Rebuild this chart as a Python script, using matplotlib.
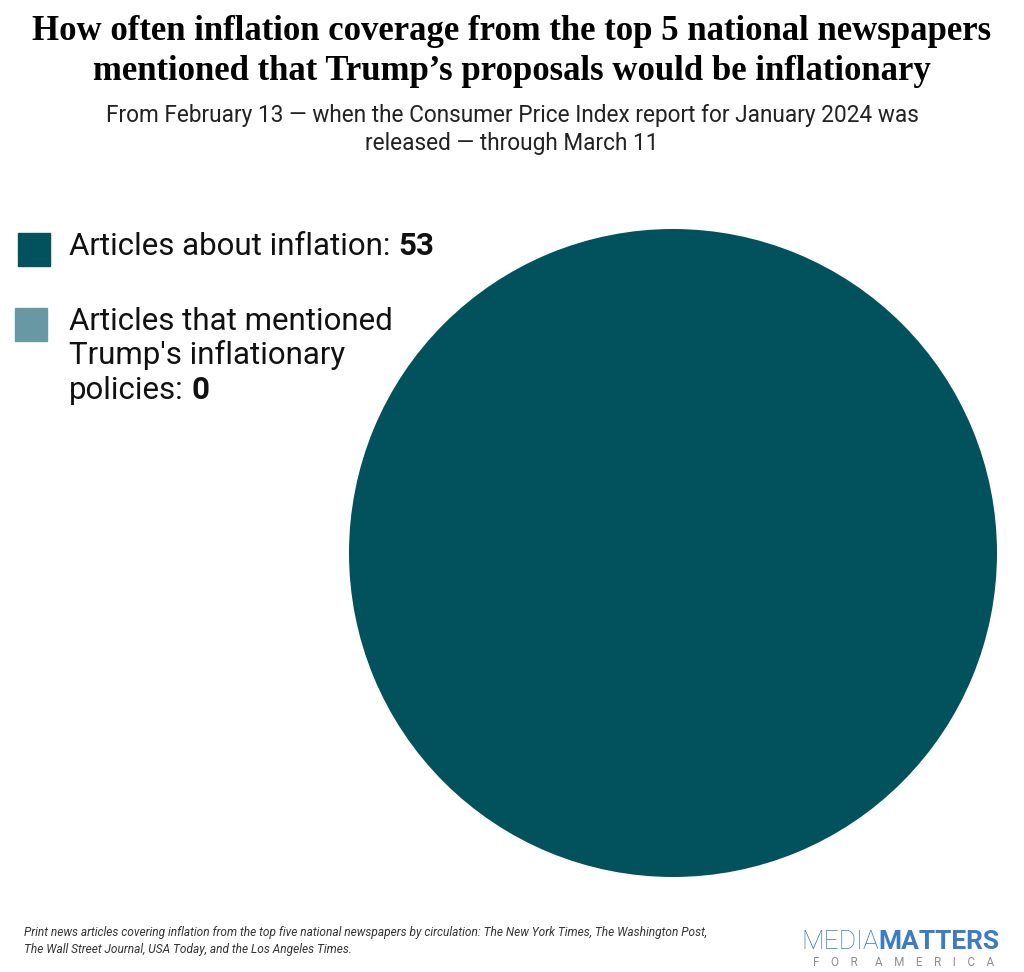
import matplotlib
matplotlib.use("Agg")
import matplotlib.pyplot as plt
from matplotlib.patches import Rectangle

# data
labels = ["Articles about inflation: ", "Articles that mentioned\nTrump's inflationary\npolicies: "]
counts = [53, 0]
colors = ["#01525c", "#6798a3"]

title = "How often inflation coverage from the top 5 national newspapers\nmentioned that Trump\u2019s proposals would be inflationary"
subtitle = "From February 13 \u2014 when the Consumer Price Index report for January 2024 was\nreleased \u2014 through March 11"
note = ("Print news articles covering inflation from the top five national newspapers by circulation: The New York Times, The Washington Post,\n"
        "The Wall Street Journal, USA Today, and the Los Angeles Times.")

W, H = 1024, 972
fig = plt.figure(figsize=(W / 100, H / 100), dpi=100)
fig.patch.set_facecolor("white")

# pie, center ~ (673, 553), radius ~ 324 px
cx, cy, r = 673, 553, 324
ax = fig.add_axes([(cx - r) / W, (H - cy - r) / H, 2 * r / W, 2 * r / H])
ax.pie(counts, colors=colors, startangle=90, counterclock=False, radius=1,
       wedgeprops=dict(linewidth=0))
ax.set_xlim(-1, 1)
ax.set_ylim(-1, 1)
ax.set_aspect("equal")
ax.axis("off")

fig.text(0.5, 1 - 15 / H, title, ha="center", va="top", family="Liberation Serif",
         fontweight="bold", fontsize=25, linespacing=1.3)
fig.text(0.5, 1 - 104 / H, subtitle, ha="center", va="top", family="Roboto",
         fontsize=16.3, color="#222222", linespacing=1.3)

fig.canvas.draw()
renderer = fig.canvas.get_renderer()


def text_width(s, **kw):
    t = fig.text(0, 0, s, **kw)
    w = t.get_window_extent(renderer).width
    t.remove()
    return w


# legend (one text per line, the count in bold after the last line)
boxes = [(18, 233), (15, 308)]
first_line = [247, 322]
step = 34.5
lkw = dict(family="Roboto", fontsize=22.5, color="#111111")
for (bx, by), y0, lab, n, c in zip(boxes, first_line, labels, counts, colors):
    fig.patches.append(Rectangle((bx / W, 1 - (by + 33) / H), 32 / W, 33 / H,
                                 transform=fig.transFigure, color=c, figure=fig))
    lines = lab.split("\n")
    for i, line in enumerate(lines):
        y = 1 - (y0 + i * step + 8) / H
        fig.text(69 / W, y, line.rstrip(), ha="left", va="baseline", **lkw)
    lw = text_width(lines[-1], **lkw)
    fig.text((69 + lw) / W, y, str(n), ha="left", va="baseline", fontweight="bold", **lkw)

fig.text(24 / W, 1 - 926 / H, note, ha="left", va="top", family="Roboto",
         style="italic", fontsize=8.6, color="#333333", linespacing=1.35)

# logo
fig.text(1000 / W, 1 - 949 / H, "MATTERS", ha="right", va="baseline", fontweight="bold",
         family="Roboto", fontsize=19, color="#3b7cc4")
w2 = text_width("MATTERS", fontweight="bold", family="Roboto", fontsize=19)
fig.text((1000 - w2) / W, 1 - 949 / H, "MEDIA", ha="right", va="baseline", fontweight="light",
         family="Roboto", fontsize=19, color="#3b7cc4")
fig.text(904 / W, 1 - 966 / H, "F    O    R      A    M    E    R    I    C    A", ha="center",
         va="baseline", family="Roboto", fontsize=8.5, color="#8a8f96")

fig.savefig("out.png", dpi=100, facecolor="white")
